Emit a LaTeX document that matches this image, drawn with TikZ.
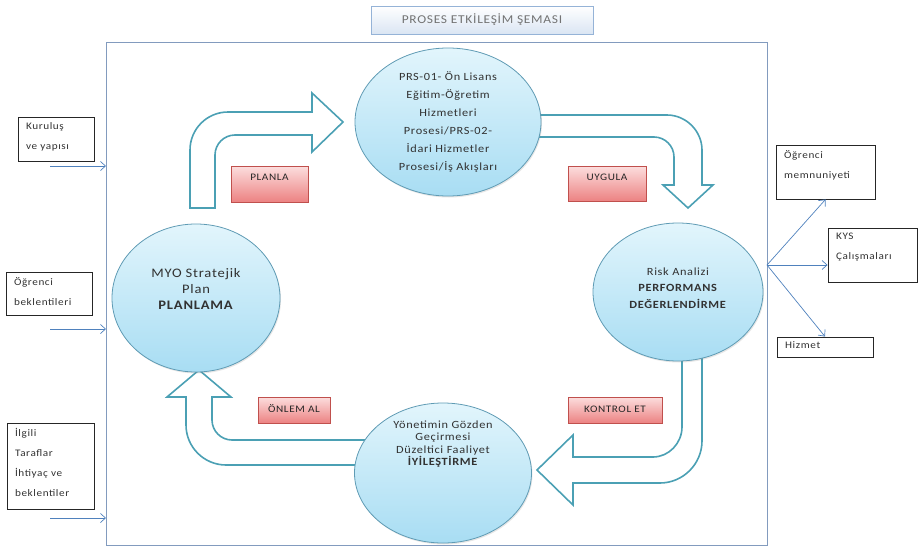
\documentclass[tikz,border=0pt]{standalone}
\usepackage{fontspec}
\setmainfont{Carlito}[FakeStretch=1.12,LetterSpace=6]
\usetikzlibrary{calc,positioning,arrows.meta,shapes.geometric,shadows}

\definecolor{frameblue}{RGB}{130,155,190}
\definecolor{arrowteal}{RGB}{75,160,180}
\definecolor{ellline}{RGB}{95,155,180}
\definecolor{elltop}{RGB}{226,245,252}
\definecolor{ellbot}{RGB}{168,221,243}
\definecolor{redline}{RGB}{192,80,77}
\definecolor{redtop}{RGB}{252,222,222}
\definecolor{redbot}{RGB}{236,130,130}
\definecolor{ioblue}{RGB}{79,129,189}
\definecolor{titleline}{RGB}{149,179,215}
\definecolor{titlebot}{RGB}{218,229,243}
\definecolor{txtgray}{RGB}{50,50,50}

\begin{document}
\begin{tikzpicture}
    [x=1pt,y=-1pt,
     ell/.style={ellipse,draw=ellline,line width=.8pt,top color=elltop,
                 bottom color=ellbot,inner sep=0,
                 drop shadow={opacity=.2,shadow xshift=1pt,shadow yshift=-1.5pt}},
     etxt/.style={align=center,text=txtgray,inner sep=0},
     lbl/.style={draw=redline,line width=.6pt,top color=redtop,bottom color=redbot,
                 text=black!85,font=\fontsize{10}{12}\selectfont,inner sep=0,
                 drop shadow={opacity=.25,shadow xshift=1pt,shadow yshift=-1pt}},
     turn/.style={draw=arrowteal,line width=1.6pt,fill=white,line join=miter},
     iobox/.style={draw=black!85,line width=.9pt,fill=white,inner sep=0},
     iotxt/.style={anchor=north west,align=left,text=txtgray,
                   font=\fontsize{10}{20}\selectfont},
     io/.style={draw=ioblue,line width=.7pt,-{Straight Barb[length=5pt,width=9pt]}}]
    \useasboundingbox (0,0) rectangle (919,549);

    \node[draw=frameblue,line width=.9pt,minimum width=661pt,minimum height=503pt,
          inner sep=0,outer sep=0] (frame) at (436.5,293.5) {};
    \node[draw=titleline,line width=.8pt,top color=white,bottom color=titlebot,
          minimum width=222pt,minimum height=28pt,text=black!55,
          font=\fontsize{12}{14}\selectfont,
          drop shadow={opacity=.15,shadow xshift=1pt,shadow yshift=-1pt}]
          (title) at (482,20) {PROSES ETKİLEŞİM ŞEMASI};

    % bent arrows of the cycle
    \draw[turn] (190,208) -- (190,150) .. controls (190,129) and (207,112) .. (228,112)
        -- (312,112) -- (312,93) -- (343,122) -- (312,152) -- (312,135) -- (235,135)
        .. controls (224,135) and (215,144) .. (215,155) -- (215,208) -- cycle;
    \draw[turn] (530,115) -- (667,115) .. controls (686,115) and (702,131) .. (702,150)
        -- (702,185) -- (713,185) -- (688,208) -- (663,185) -- (674,185) -- (674,157)
        .. controls (674,146) and (665,137) .. (654,137) -- (530,137) -- cycle;
    \draw[turn] (682,350) -- (682,427) .. controls (682,443) and (669,457) .. (653,457)
        -- (573,457) -- (573,435) -- (537,470) -- (573,505) -- (573,483) -- (660,483)
        .. controls (683,483) and (702,464) .. (702,441) -- (702,350) -- cycle;
    \draw[turn] (370,440) -- (232,440) .. controls (221,440) and (212,431) .. (212,420)
        -- (212,397) -- (231,397) -- (199,370) -- (167,397) -- (186,397) -- (186,425)
        .. controls (186,447) and (204,465) .. (226,465) -- (370,465) -- cycle;

    % processes
    \node[ell,minimum width=186pt,minimum height=148pt] (prs) at (448,122) {};
    \node[ell,minimum width=168pt,minimum height=148pt] (plan) at (196,298) {};
    \node[ell,minimum width=170pt,minimum height=138pt] (perf) at (678,292) {};
    \node[ell,minimum width=177pt,minimum height=140pt] (iyi) at (443,473) {};

    \node[etxt,font=\fontsize{11}{18}\selectfont] (prs-t) at (prs)
        {PRS-01- Ön Lisans\\Eğitim-Öğretim\\Hizmetleri\\Prosesi/PRS-02-\\İdari Hizmetler\\Prosesi/İş Akışları};
    \node[etxt,font=\fontsize{13}{16}\selectfont] (plan-t) at ($(plan)+(0,-9)$)
        {MYO Stratejik\\Plan\\\textbf{PLANLAMA}};
    \node[etxt,font=\fontsize{11}{16.5}\selectfont] (perf-t) at ($(perf)+(0,-4)$)
        {Risk Analizi\\\textbf{PERFORMANS}\\\textbf{DEĞERLENDİRME}};
    \node[etxt,font=\fontsize{11}{12.5}\selectfont] (iyi-t) at ($(iyi)+(0,-29)$)
        {Yönetimin Gözden\\Geçirmesi\\Düzeltici Faaliyet\\\textbf{İYİLEŞTİRME}};

    % steps
    \node[lbl,minimum width=77pt,text height=14pt,text depth=22pt] (planla) at (269.5,184) {PLANLA};
    \node[lbl,minimum width=78pt,text height=14pt,text depth=21pt] (uygula) at (607,183.5) {UYGULA};
    \node[lbl,minimum width=94pt,text height=15pt,text depth=11pt] (kontrol) at (615,410) {KONTROL ET};
    \node[lbl,minimum width=72pt,text height=15pt,text depth=11pt] (onlem) at (294,410) {ÖNLEM AL};

    % inputs and outputs
    \foreach \n/\x/\y/\w/\h/\txt in {kur/56/139/76/44/{Kuruluş\\ve yapısı},
            ogr/49/293.5/86/43/{Öğrenci\\beklentileri},
            ilg/50.5/466/87/86/{İlgili\\Taraflar\\İhtiyaç ve\\beklentiler},
            memn/825.5/172/99/54/{Öğrenci\\memnuniyeti},
            kys/872.5/255/89/54/{KYS\\Çalışmaları},
            hiz/825/347/96/20/{Hizmet}}
    {
        \node[iobox,minimum width=\w pt,minimum height=\h pt] (\n) at (\x,\y) {};
        \node[iotxt] (\n-t) at ($(\n.north west)+(5,2)$) {\txt};
    }

    \coordinate (kur-in) at (50,166);
    \coordinate (ogr-in) at (50,329);
    \coordinate (ilg-in) at (50,518);
    \foreach \c in {kur-in,ogr-in,ilg-in}
        \draw[io] (\c) -- (\c -| frame.west);

    \coordinate (hub) at (767,265);
    \draw[io] (hub) -- (memn.south);
    \draw[io] (hub) -- (hub -| kys.west);
    \draw[io] (hub) -- (hiz.north);
\end{tikzpicture}
\end{document}
